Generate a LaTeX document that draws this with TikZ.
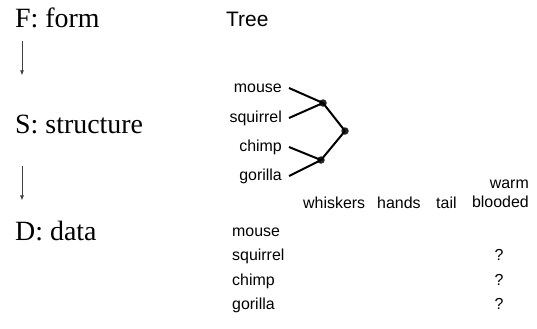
\documentclass[tikz,border=0pt]{standalone}
\usepackage{fontspec}
\setmainfont{Liberation Serif}
\setsansfont{Liberation Sans}
\usetikzlibrary{arrows.meta, positioning}

\begin{document}
\begin{tikzpicture}[
				x=1bp, y=-1bp,
				% Define styles
				levelname/.style={anchor=base west, inner sep=0pt, font=\fontsize{28}{32}\selectfont},
				treetitle/.style={anchor=base west, inner sep=0pt, font=\sffamily\fontsize{21}{25}\selectfont},
				leaf/.style={anchor=east, inner xsep=7bp, inner ysep=0pt, text height=11.5bp, text depth=3.4bp, font=\sffamily\fontsize{16}{19}\selectfont},
				split/.style={circle, fill=black!85, inner sep=0pt, minimum size=7.5bp},
				branch/.style={line width=2bp, black},
				levelarrow/.style={-{Latex[length=5bp, width=4bp]}, line width=0.8bp, draw=black!75},
				cell/.style={anchor=base west, inner sep=0pt, font=\sffamily\fontsize{16}{19}\selectfont},
				unknown/.style={anchor=base, inner sep=0pt, font=\sffamily\fontsize{16}{19}\selectfont}
				]
				\useasboundingbox (0,0) rectangle (537,328);
				
				% Level names
				\node[levelname] (form) at (15,27) {F: form};
				\node[levelname] (struct) at (15,133) {S: structure};
				\node[levelname] (data) at (15,240) {D: data};
				
				% Arrows between levels
				\draw[levelarrow, shorten <=13bp, shorten >=39bp] ([xshift=7bp]form.south west) -- ([xshift=7bp]struct.north west);
				\draw[levelarrow, shorten <=32bp, shorten >=20bp] ([xshift=7bp]struct.south west) -- ([xshift=7bp]data.north west);
				
				% Form
				\node[treetitle] (tree) at (226,26) {Tree};
				
				% Leaves of the tree
				\node[leaf] (leafmouse) at (289,88) {mouse};
				\node[leaf] (leafsquirrel) at (289,118) {squirrel};
				\node[leaf] (leafchimp) at (289,147) {chimp};
				\node[leaf] (leafgorilla) at (289,176) {gorilla};
				
				% Inner nodes
				\node[split] (rodents) at (323,103) {};
				\node[split] (apes) at (321,160) {};
				\node[split] (root) at (345,131) {};
				
				% Branches
				\draw[branch] (leafmouse.east) -- (rodents.center);
				\draw[branch] (leafsquirrel.east) -- (rodents.center);
				\draw[branch] (leafchimp.east) -- (apes.center);
				\draw[branch] (leafgorilla.east) -- (apes.center);
				\draw[branch] (rodents.center) -- (root.center);
				\draw[branch] (apes.center) -- (root.center);
				
				% Feature header
				\node[cell] (whiskers) at (303,208) {whiskers};
				\node[cell] (hands) at (377,208) {hands};
				\node[cell] (tail) at (436,208) {tail};
				\node[anchor=south east, inner sep=0pt, align=right, font=\sffamily\fontsize{16}{19}\selectfont] (blooded) at (529,208) {warm\\blooded};
				
				% Rows of the data
				\node[cell] (rowmouse) at (232,236) {mouse};
				\node[cell] (rowsquirrel) at (232,260.5) {squirrel};
				\node[cell] (rowchimp) at (232,285) {chimp};
				\node[cell] (rowgorilla) at (232,309.5) {gorilla};
				
				% Missing values
				\node[unknown] (qsquirrel) at (499,260.5) {?};
				\node[unknown] (qchimp) at (499,285) {?};
				\node[unknown] (qgorilla) at (499,309.5) {?};
				
			\end{tikzpicture}
\end{document}
